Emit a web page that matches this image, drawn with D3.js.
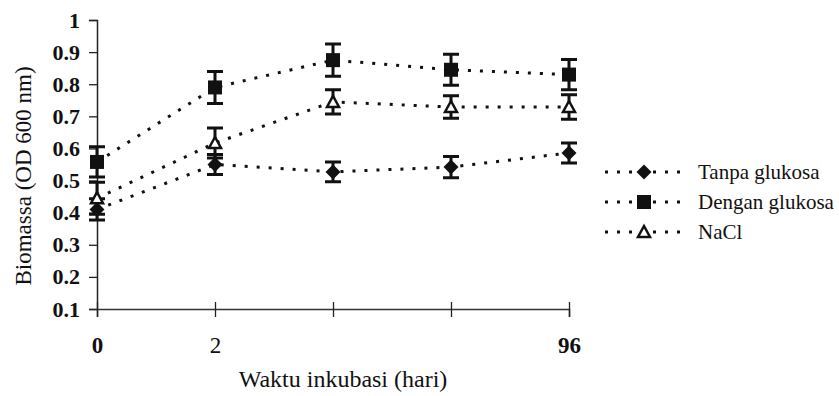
<!DOCTYPE html>
<html>
<head>
<meta charset="utf-8">
<script src="https://cdn.jsdelivr.net/npm/d3@7"></script>
<style>
  body { margin: 0; background: #fff; }
  svg { display: block; }
  text { font-family: "Liberation Serif", "DejaVu Serif", serif; fill: #111; }
</style>
</head>
<body>
<div id="chart"></div>
<script>
// incubation time (hours) and the labels printed under the ticks
const times = [0, 24, 48, 72, 96];
const xTickLabels = ['0', '2', '', '', '96'];
const yTicks = [0.1, 0.2, 0.3, 0.4, 0.5, 0.6, 0.7, 0.8, 0.9, 1];

const seriesNames = ['Tanpa glukosa', 'Dengan glukosa', 'NaCl'];
const tanpaValues = [0.41, 0.55, 0.527, 0.542, 0.586];
const tanpaErrors = [0.033, 0.031, 0.031, 0.033, 0.031];
const denganValues = [0.558, 0.79, 0.875, 0.845, 0.83];
const denganErrors = [0.047, 0.05, 0.05, 0.048, 0.047];
const naclValues = [0.445, 0.617, 0.745, 0.729, 0.729];
const naclErrors = [0.05, 0.047, 0.038, 0.035, 0.038];

const W = 839, H = 396;
const plot = { left: 97, right: 569, top: 20, bottom: 309 };

const svg = d3.select('#chart').append('svg')
    .attr('width', W)
    .attr('height', H);

const x = d3.scalePoint()
    .domain(times)
    .range([plot.left, plot.right]);

const y = d3.scaleLinear()
    .domain([0.1, 1])
    .range([plot.bottom, plot.top]);

// y axis
const yAxis = svg.append('g')
    .attr('transform', `translate(${plot.left},0)`)
    .call(d3.axisLeft(y).tickValues(yTicks).tickSize(8).tickPadding(9)
        .tickFormat(d => d === 1 ? '1' : d3.format('.1f')(d)));
yAxis.select('.domain').attr('stroke', '#222').attr('stroke-width', 1.5);
yAxis.selectAll('.tick line').attr('stroke', '#222').attr('stroke-width', 1.3);
yAxis.selectAll('text')
    .style('font-size', '22px')
    .style('font-weight', 'bold')
    .attr('fill', '#111');

// x axis, ticks crossing the line
const xAxis = svg.append('g')
    .attr('transform', `translate(0,${plot.bottom})`)
    .call(d3.axisBottom(x).tickSizeOuter(0).tickSize(8).tickFormat((d, i) => xTickLabels[i]));
xAxis.select('.domain').attr('stroke', '#333').attr('stroke-width', 1.5);
xAxis.selectAll('.tick line').attr('y1', -7).attr('y2', 8).attr('stroke', '#222').attr('stroke-width', 1.3);
xAxis.selectAll('text')
    .attr('y', 44)
    .attr('dy', null)
    .style('font-size', '23px')
    .style('font-weight', (d, i) => xTickLabels[i] === '2' ? 'normal' : 'bold')
    .attr('fill', '#111');

// axis titles
svg.append('text')
    .attr('x', 343)
    .attr('y', 387)
    .attr('text-anchor', 'middle')
    .style('font-size', '24px')
    .text('Waktu inkubasi (hari)');

svg.append('text')
    .attr('transform', 'translate(31,176) rotate(-90)')
    .attr('text-anchor', 'middle')
    .style('font-size', '23px')
    .text('Biomassa (OD 600 nm)');

const series = [
    { name: seriesNames[0], values: tanpaValues, errors: tanpaErrors, marker: 'diamond' },
    { name: seriesNames[1], values: denganValues, errors: denganErrors, marker: 'square' },
    { name: seriesNames[2], values: naclValues, errors: naclErrors, marker: 'triangle' }
];

function drawMarker(g, type) {
    if (type === 'diamond') {
        g.append('path').attr('d', 'M0,-7.5L7.5,0L0,7.5L-7.5,0Z').attr('fill', '#111');
    } else if (type === 'square') {
        g.append('rect').attr('x', -7).attr('y', -7).attr('width', 14).attr('height', 14).attr('fill', '#111');
    } else {
        g.append('path').attr('d', 'M0,-6L6,5L-6,5Z')
            .attr('fill', '#fff').attr('stroke', '#111').attr('stroke-width', 2.5);
    }
}

const line = d3.line()
    .x(d => x(d.t))
    .y(d => y(d.v));

series.forEach(s => {
    const pts = times.map((t, i) => ({ t, v: s.values[i], e: s.errors[i] }));

    svg.append('path')
        .datum(pts)
        .attr('d', line)
        .attr('fill', 'none')
        .attr('stroke', '#111')
        .attr('stroke-width', 3)
        .attr('stroke-dasharray', '3 9');

    const g = svg.append('g');
    // error bars
    g.selectAll('.err')
        .data(pts)
        .enter()
        .append('path')
        .attr('d', d => {
            const cx = x(d.t), t = y(d.v + d.e), b = y(d.v - d.e);
            return `M${cx - 8},${t}H${cx + 8}M${cx},${t}V${b}M${cx - 8},${b}H${cx + 8}`;
        })
        .attr('fill', 'none')
        .attr('stroke', '#111')
        .attr('stroke-width', 3);

    pts.forEach(d => {
        const m = g.append('g').attr('transform', `translate(${x(d.t)},${y(d.v)})`);
        drawMarker(m, s.marker);
    });
});

// legend
const legend = svg.append('g');
series.forEach((s, i) => {
    const ly = 172 + i * 30;
    legend.append('line')
        .attr('x1', 605).attr('x2', 683)
        .attr('y1', ly).attr('y2', ly)
        .attr('stroke', '#111')
        .attr('stroke-width', 3)
        .attr('stroke-dasharray', '3 9');
    const m = legend.append('g').attr('transform', `translate(644,${ly})`);
    drawMarker(m, s.marker);
    legend.append('text')
        .attr('x', 698)
        .attr('y', ly + 7)
        .style('font-size', '21px')
        .text(s.name);
});
</script>
</body>
</html>
